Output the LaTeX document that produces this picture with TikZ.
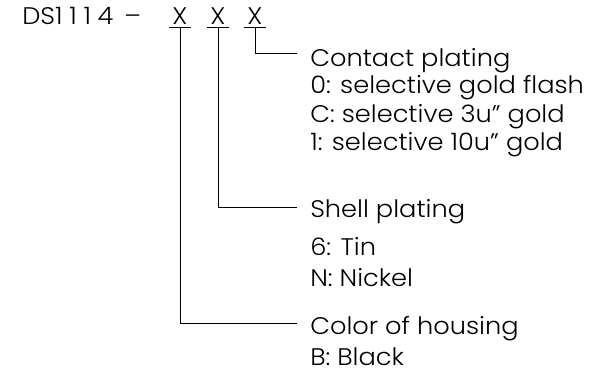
\documentclass[tikz,border=0pt]{standalone}
\usepackage{fontspec}
\setmainfont{Poppins Light}[FakeStretch=1.07]
\usetikzlibrary{calc}

\begin{document}
\begin{tikzpicture}[
    x=0.75pt, y=-0.75pt,
    font=\fontsize{18}{18}\selectfont,
    lbl/.style={anchor=base west, inner sep=0pt},
    digit/.style={anchor=base, inner sep=0pt},
    lead/.style={line width=0.75pt}
]
    \useasboundingbox (0,0) rectangle (608,382);

    % Part number
    \node[lbl] (pn) at (22,24) {DS{\addfontfeature{LetterSpace=28}1114} \,–};
    \node[digit] (x1) at (180,24) {X};
    \node[digit] (x2) at (218,24) {X};
    \node[digit] (x3) at (255,24) {X};
    \foreach \n in {x1,x2,x3}
        \draw[lead] ($(\n.south west)+(-3,3)$) -- ($(\n.south east)+(3,3)$);

    % Contact plating
    \node[lbl] (contact) at (310,66) {Contact plating};
    \node[lbl] (contact0) at (310,93) {0: selective gold flash};
    \node[lbl] (contactC) at (310,122) {C: selective 3u” gold};
    \node[lbl] (contact1) at (310,150) {1: selective 10u” gold};

    % Shell plating
    \node[lbl] (shell) at (310,217) {Shell plating};
    \node[lbl] (shell6) at (310,255) {6: Tin};
    \node[lbl] (shellN) at (310,286) {N: Nickel};

    % Color of housing
    \node[lbl] (housing) at (310,334) {Color of housing};
    \node[lbl] (housingB) at (310,365) {B: Black};

    % Leaders
    \draw[lead] ($(x3.south)+(0,3)$) |- ($(contact.base west)+(-13,-13)$);
    \draw[lead] ($(x2.south)+(0,3)$) |- ($(shell.base west)+(-13,-10)$);
    \draw[lead] ($(x1.south)+(0,3)$) |- ($(housing.base west)+(-13,-11)$);

\end{tikzpicture}
\end{document}
